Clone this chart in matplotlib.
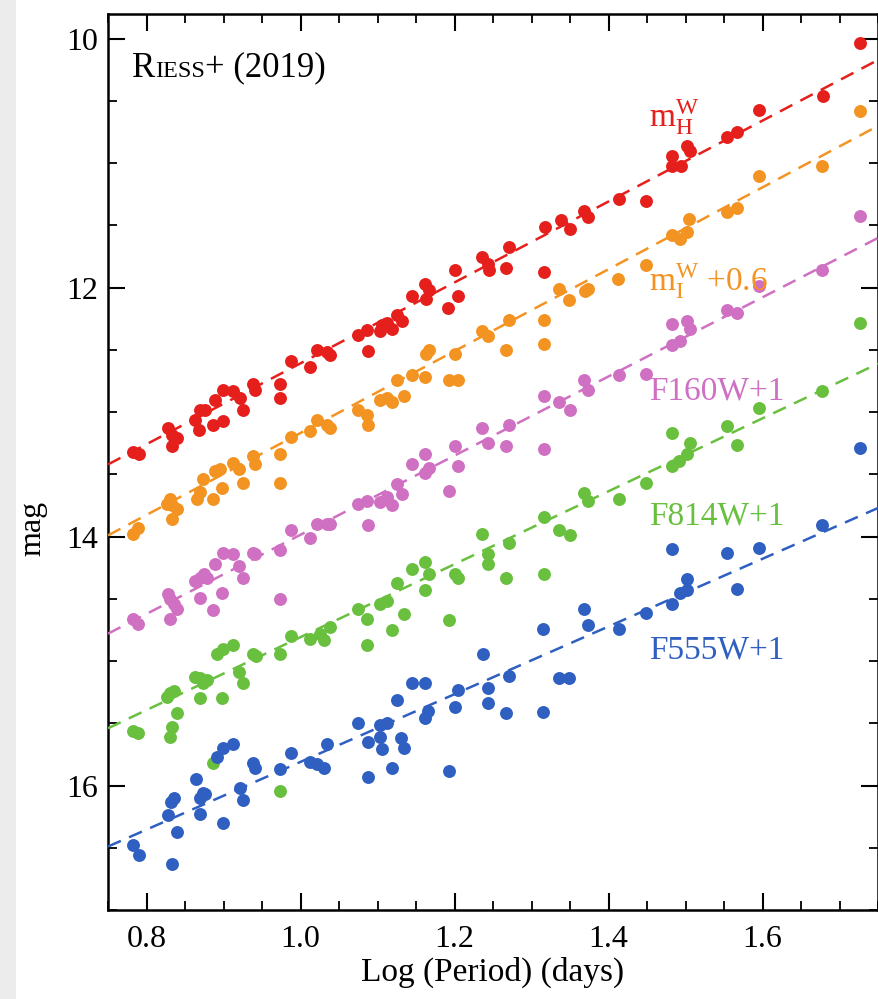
import matplotlib.pyplot as plt
from matplotlib.patches import Rectangle
from matplotlib.ticker import MultipleLocator

plt.rcParams["font.family"] = ["Liberation Serif", "DejaVu Serif"]
plt.rcParams["mathtext.fontset"] = "custom"
plt.rcParams["mathtext.rm"] = "Liberation Serif"
plt.rcParams["mathtext.it"] = "Liberation Serif:italic"

# values: log period (days) vs magnitude
mh_x = [0.782, 0.790, 0.828, 0.833, 0.839, 0.833, 0.863, 0.869, 0.876, 0.868, 0.889,
        0.886, 0.899, 0.899, 0.912, 0.921, 0.925, 0.938, 0.941, 0.973, 0.973, 0.988,
        1.012, 1.022, 1.034, 1.038, 1.074, 1.086, 1.087, 1.103, 1.106, 1.112, 1.119,
        1.125, 1.132, 1.145, 1.161, 1.167, 1.163, 1.192, 1.200, 1.205, 1.236, 1.243,
        1.245, 1.267, 1.271, 1.316, 1.318, 1.338, 1.350, 1.368, 1.373, 1.414, 1.449,
        1.482, 1.482, 1.494, 1.502, 1.506, 1.554, 1.567, 1.596, 1.678, 1.726]
mh_y = [13.32, 13.34, 13.13, 13.18, 13.21, 13.27, 13.06, 12.98, 12.98, 13.14, 12.90,
        13.10, 13.07, 12.82, 12.83, 12.89, 12.98, 12.77, 12.82, 12.77, 12.89, 12.59,
        12.64, 12.50, 12.52, 12.54, 12.38, 12.34, 12.51, 12.35, 12.30, 12.28, 12.33,
        12.22, 12.27, 12.07, 11.97, 12.02, 12.09, 12.16, 11.86, 12.07, 11.75, 11.81,
        11.86, 11.84, 11.67, 11.87, 11.51, 11.46, 11.53, 11.38, 11.43, 11.29, 11.30,
        10.94, 11.02, 11.02, 10.86, 10.90, 10.79, 10.75, 10.57, 10.46, 10.03]

mi_x = [0.782, 0.789, 0.826, 0.830, 0.833, 0.839, 0.833, 0.865, 0.869, 0.873, 0.886,
        0.898, 0.889, 0.896, 0.912, 0.920, 0.925, 0.938, 0.941, 0.973, 0.973, 0.988,
        1.012, 1.022, 1.034, 1.038, 1.074, 1.086, 1.087, 1.103, 1.112, 1.119, 1.125,
        1.135, 1.145, 1.161, 1.163, 1.167, 1.193, 1.204, 1.200, 1.236, 1.243, 1.267,
        1.271, 1.316, 1.316, 1.336, 1.349, 1.370, 1.373, 1.412, 1.449, 1.482, 1.493,
        1.502, 1.504, 1.554, 1.567, 1.596, 1.677, 1.726]
mi_y = [13.98, 13.93, 13.74, 13.70, 13.75, 13.78, 13.86, 13.70, 13.64, 13.54, 13.70,
        13.61, 13.47, 13.46, 13.41, 13.46, 13.57, 13.35, 13.42, 13.34, 13.57, 13.20,
        13.15, 13.06, 13.10, 13.13, 12.98, 13.02, 13.10, 12.90, 12.89, 12.92, 12.74,
        12.87, 12.70, 12.72, 12.53, 12.50, 12.74, 12.74, 12.53, 12.35, 12.39, 12.50,
        12.26, 12.26, 12.45, 12.01, 12.10, 12.03, 12.01, 11.93, 11.82, 11.58, 11.61,
        11.55, 11.45, 11.39, 11.36, 11.10, 11.02, 10.58]

f160_x = [0.782, 0.789, 0.828, 0.830, 0.836, 0.839, 0.830, 0.863, 0.869, 0.874, 0.878,
          0.869, 0.886, 0.898, 0.889, 0.899, 0.912, 0.920, 0.925, 0.938, 0.941, 0.973,
          0.973, 0.988, 1.012, 1.022, 1.034, 1.038, 1.074, 1.086, 1.087, 1.103, 1.112,
          1.119, 1.125, 1.132, 1.145, 1.161, 1.167, 1.161, 1.193, 1.200, 1.205, 1.236,
          1.244, 1.267, 1.271, 1.316, 1.316, 1.336, 1.350, 1.368, 1.373, 1.414, 1.449,
          1.482, 1.482, 1.493, 1.502, 1.506, 1.554, 1.567, 1.596, 1.677, 1.726]
f160_y = [14.66, 14.70, 14.46, 14.50, 14.54, 14.58, 14.66, 14.36, 14.33, 14.30, 14.33,
          14.49, 14.59, 14.45, 14.22, 14.13, 14.14, 14.24, 14.33, 14.13, 14.14, 14.11,
          14.50, 13.95, 14.01, 13.90, 13.90, 13.90, 13.74, 13.71, 13.91, 13.72, 13.68,
          13.75, 13.58, 13.66, 13.42, 13.34, 13.45, 13.49, 13.63, 13.27, 13.43, 13.13,
          13.25, 13.27, 13.10, 12.87, 13.30, 12.92, 12.98, 12.74, 12.82, 12.70, 12.69,
          12.29, 12.46, 12.43, 12.27, 12.33, 12.18, 12.20, 11.99, 11.86, 11.42]

f814_x = [0.782, 0.789, 0.826, 0.830, 0.836, 0.839, 0.833, 0.830, 0.863, 0.869, 0.873,
          0.878, 0.869, 0.898, 0.886, 0.891, 0.899, 0.912, 0.920, 0.925, 0.938, 0.942,
          0.973, 0.973, 0.988, 1.012, 1.025, 1.031, 1.038, 1.074, 1.086, 1.086, 1.103,
          1.112, 1.119, 1.125, 1.135, 1.145, 1.161, 1.167, 1.161, 1.193, 1.200, 1.204,
          1.236, 1.244, 1.243, 1.267, 1.271, 1.316, 1.316, 1.336, 1.350, 1.368, 1.373,
          1.414, 1.449, 1.482, 1.482, 1.491, 1.502, 1.506, 1.554, 1.567, 1.596, 1.677,
          1.726]
f814_y = [15.56, 15.58, 15.29, 15.26, 15.24, 15.42, 15.53, 15.61, 15.13, 15.14, 15.18,
          15.15, 15.30, 15.30, 15.82, 14.94, 14.90, 14.87, 15.09, 15.18, 14.94, 14.96,
          14.94, 16.04, 14.80, 14.82, 14.78, 14.83, 14.73, 14.58, 14.66, 14.87, 14.54,
          14.52, 14.75, 14.37, 14.62, 14.26, 14.20, 14.30, 14.43, 14.67, 14.30, 14.33,
          13.98, 14.14, 14.22, 14.33, 14.05, 13.84, 14.30, 13.95, 13.99, 13.65, 13.71,
          13.70, 13.57, 13.17, 13.43, 13.39, 13.34, 13.25, 13.11, 13.26, 12.97, 12.83,
          12.28]

f555_x = [0.782, 0.790, 0.828, 0.832, 0.836, 0.839, 0.833, 0.864, 0.869, 0.873, 0.876,
          0.869, 0.899, 0.891, 0.899, 0.912, 0.921, 0.925, 0.938, 0.941, 0.973, 0.988,
          1.012, 1.022, 1.031, 1.035, 1.074, 1.087, 1.087, 1.103, 1.103, 1.112, 1.106,
          1.119, 1.125, 1.131, 1.135, 1.145, 1.161, 1.166, 1.161, 1.193, 1.201, 1.204,
          1.237, 1.244, 1.243, 1.267, 1.271, 1.315, 1.315, 1.336, 1.349, 1.368, 1.373,
          1.414, 1.449, 1.482, 1.482, 1.493, 1.502, 1.502, 1.554, 1.567, 1.596, 1.677,
          1.726]
f555_y = [16.48, 16.56, 16.24, 16.13, 16.10, 16.37, 16.63, 15.95, 16.10, 16.06, 16.07,
          16.23, 16.30, 15.77, 15.70, 15.67, 16.02, 16.12, 15.82, 15.86, 15.87, 15.74,
          15.81, 15.83, 15.86, 15.67, 15.50, 15.65, 15.93, 15.51, 15.61, 15.50, 15.71,
          15.86, 15.31, 15.62, 15.70, 15.18, 15.18, 15.40, 15.46, 15.88, 15.37, 15.23,
          14.94, 15.22, 15.34, 15.42, 15.12, 14.74, 15.41, 15.14, 15.14, 14.58, 14.71,
          14.74, 14.61, 14.10, 14.54, 14.45, 14.34, 14.43, 14.13, 14.42, 14.09, 13.91,
          13.29]

# dashed fits, magnitude at log P = 0.75 and 1.75
fit_x = [0.75, 1.75]
mh_fit = [13.42, 10.17]
mi_fit = [13.99, 10.70]
f160_fit = [14.78, 11.60]
f814_fit = [15.54, 12.61]
f555_fit = [16.49, 13.77]

series = [
    (mh_x, mh_y, mh_fit, "#e5201c", r"$\mathrm{m_H^W}$", 10.71),
    (mi_x, mi_y, mi_fit, "#f39322", r"$\mathrm{m_I^W}$ +0.6", 12.03),
    (f160_x, f160_y, f160_fit, "#cf70c2", "F160W+1", 12.90),
    (f814_x, f814_y, f814_fit, "#69bf3e", "F814W+1", 13.90),
    (f555_x, f555_y, f555_fit, "#2f5fc0", "F555W+1", 14.98),
]

fig = plt.figure(figsize=(8.79, 9.99), dpi=100)
fig.add_artist(Rectangle((0, 0), 16 / 879, 1, transform=fig.transFigure,
                         facecolor="#ececec", edgecolor="none", zorder=0))
ax = fig.add_axes([0.1229, 0.0891, 0.876, 0.897])

for x, y, fit, color, label, ly in series:
    ax.plot(x, y, "o", color=color, markersize=9.3, markeredgewidth=0, zorder=2)
    ax.plot(fit_x, fit, color=color, lw=1.8, dashes=(5.6, 3.6), zorder=3)
    ax.text(1.4525, ly, label, color=color, fontsize=24, va="baseline", ha="left")

ax.set_xlim(0.75, 1.75)
ax.set_ylim(17.0, 9.8)
ax.xaxis.set_minor_locator(MultipleLocator(0.05))
ax.yaxis.set_major_locator(MultipleLocator(2))
ax.yaxis.set_minor_locator(MultipleLocator(0.5))
ax.set_xticks([0.8, 1.0, 1.2, 1.4, 1.6])
ax.set_xticklabels(["0.8", "1.0", "1.2", "1.4", "1.6"])
ax.tick_params(which="both", direction="in", top=True, right=True, labelsize=23)
ax.tick_params(which="major", length=12, width=1.5)
ax.tick_params(which="minor", length=6.5, width=1.3)
ax.tick_params(axis="x", pad=11)
ax.tick_params(axis="y", pad=7)
for s in ax.spines.values():
    s.set_linewidth(1.8)

ax.set_xlabel("Log (Period) (days)", fontsize=24, labelpad=2)
ax.set_ylabel("mag", fontsize=23, labelpad=14, y=0.426)

# "Riess+ (2019)" with small caps, pieces laid on one baseline
fig.canvas.draw()
inv = ax.transAxes.inverted()
xpos = 0.031
for txt, size in [("R", 25), ("IESS", 17.5), ("+ (2019)", 25)]:
    t = ax.text(xpos, 0.93, txt, transform=ax.transAxes, fontsize=size,
                va="baseline", ha="left")
    bb = t.get_window_extent(renderer=fig.canvas.get_renderer())
    xpos = inv.transform((bb.x1, bb.y0))[0]

fig.savefig("out.png", dpi=100)
